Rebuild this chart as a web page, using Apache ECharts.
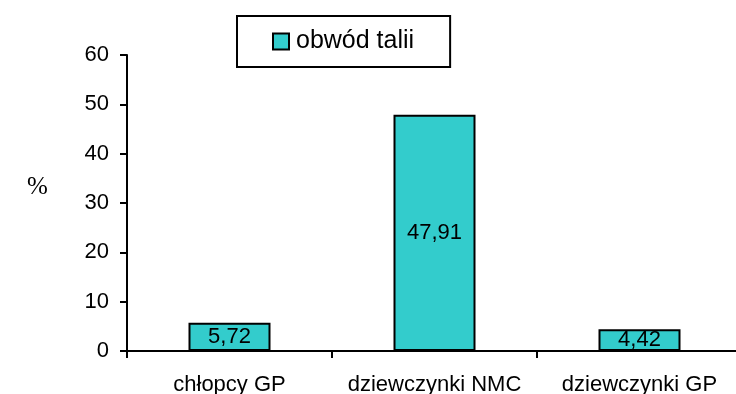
<!DOCTYPE html>
<html><head><meta charset="utf-8">
<script src="https://cdn.jsdelivr.net/npm/echarts@6/dist/echarts.min.js"></script>
<style>html,body{margin:0;padding:0;background:#fff}#c{width:736px;height:394px}</style>
</head><body><div id="c"></div>
<script>
const categories = ['chłopcy GP', 'dziewczynki NMC', 'dziewczynki GP'];
const values = [5.72, 47.91, 4.42];
const seriesName = 'obwód talii';
const yTicks = {min: 0, max: 60, interval: 10};

const chart = echarts.init(document.getElementById('c'));
const font = 'Liberation Sans, Arial, sans-serif';
chart.setOption({
  animation: false,
  grid: {left: 127, width: 615, top: 55, bottom: 43, containLabel: false, outerBoundsMode: 'none'},
  legend: {
    data: [seriesName], left: 237, top: 16,
    padding: [13, 36, 13, 35],
    borderColor: '#000', borderWidth: 2, backgroundColor: '#fff',
    itemWidth: 16, itemHeight: 16, itemGap: 5,
    icon: 'rect',
    textStyle: {fontFamily: font, fontSize: 25, color: '#000', padding: [0,0,0,2]}
  },
  graphic: [{type: 'text', left: 27, top: 175, style: {text: '%', fontFamily: 'Liberation Serif, Times New Roman, serif', fontSize: 25, fill: '#000'}}],
  xAxis: {
    type: 'category', data: categories,
    axisLine: {lineStyle: {color: '#000', width: 2}},
    axisTick: {show: true, length: 7, lineStyle: {color: '#000', width: 2}},
    axisLabel: {fontFamily: font, fontSize: 22, color: '#000', margin: 23, interval: 0, hideOverlap: false}
  },
  yAxis: {
    type: 'value', min: yTicks.min, max: yTicks.max, interval: yTicks.interval,
    axisLine: {show: true, lineStyle: {color: '#000', width: 2}},
    axisTick: {show: true, length: 7, lineStyle: {color: '#000', width: 2}},
    splitLine: {show: false},
    axisLabel: {fontFamily: font, fontSize: 22, color: '#000', margin: 18}
  },
  series: [{
    name: seriesName, type: 'bar', data: values, barWidth: '40%',
    itemStyle: {color: '#33CCCC', borderColor: '#000', borderWidth: 2},
    label: {show: true, position: 'inside', fontFamily: font, fontSize: 22, color: '#000',
      formatter: p => String(p.value).replace('.', ',')}
  }]
});
</script></body></html>
